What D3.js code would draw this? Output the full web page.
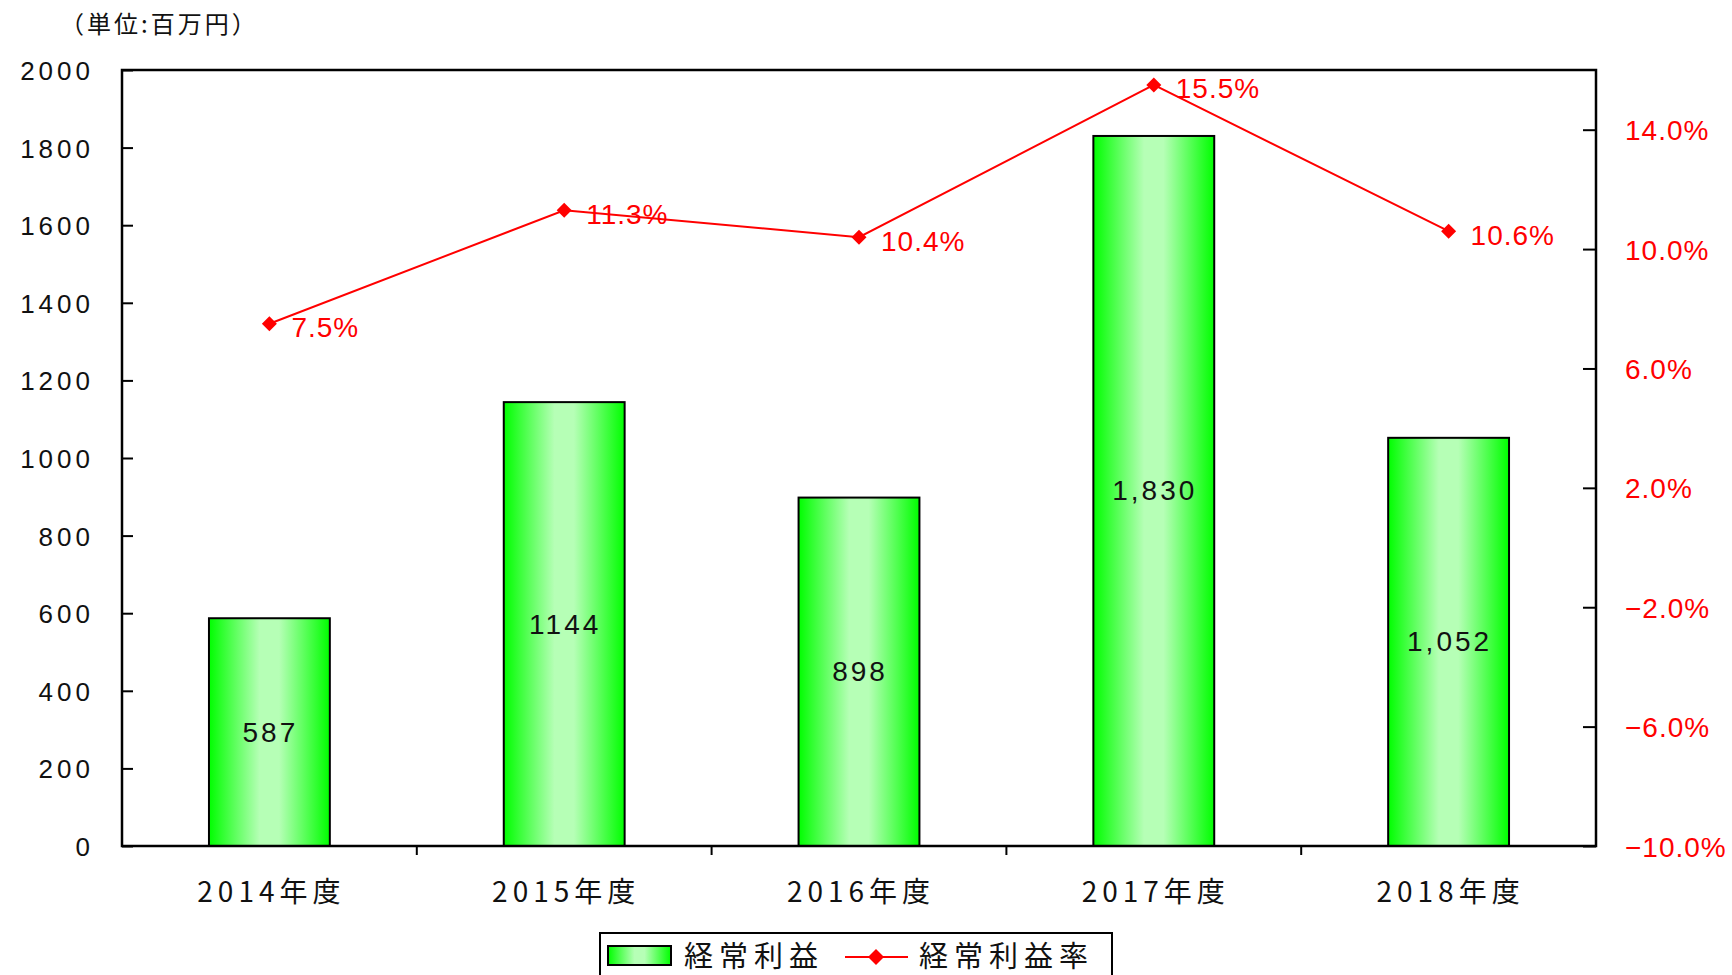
<!DOCTYPE html>
<html>
<head>
<meta charset="utf-8">
<script src="https://cdn.jsdelivr.net/npm/d3@7"></script>
<style>
  body { margin: 0; background: #fff; }
  text { font-family: "Liberation Sans", "Noto Sans CJK JP", sans-serif; }
  .jp { font-family: "Noto Sans CJK JP", sans-serif; }
</style>
</head>
<body>
<svg id="chart" width="1732" height="975"></svg>
<script>
// data
let years = ['2014年度', '2015年度', '2016年度', '2017年度', '2018年度']
let profit = [587, 1144, 898, 1830, 1052]
let profitLabels = ['587', '1144', '898', '1,830', '1,052']
let rate = [7.5, 11.3, 10.4, 15.5, 10.6]
let leftTicks = [0, 200, 400, 600, 800, 1000, 1200, 1400, 1600, 1800, 2000]
let rightTicks = [-10, -6, -2, 2, 6, 10, 14]

var plotL = 122
var plotR = 1596
var plotT = 70
var plotB = 846

var svg = d3.select('#chart')

// gradient for bars
var grad = svg.append('defs').append('linearGradient')
  .attr('id', 'barGrad')
  .attr('x1', '0%').attr('x2', '100%').attr('y1', '0%').attr('y2', '0%')
grad.append('stop').attr('offset', '0%').attr('stop-color', '#00ff00')
grad.append('stop').attr('offset', '42%').attr('stop-color', '#b6ffb6')
grad.append('stop').attr('offset', '58%').attr('stop-color', '#b6ffb6')
grad.append('stop').attr('offset', '100%').attr('stop-color', '#00ff00')

var x = d3.scaleBand()
  .domain(years)
  .range([plotL, plotR])
  .paddingInner(0.59)
  .paddingOuter(0.295)

var y = d3.scaleLinear()
  .domain([0, 2000])
  .range([plotB, plotT])

var y2 = d3.scaleLinear()
  .domain([-10, 16])
  .range([plotB, plotT])

// unit label
svg.append('text')
  .attr('class', 'jp')
  .attr('x', 60)
  .attr('y', 22)
  .attr('dominant-baseline', 'central')
  .attr('font-size', 24)
  .attr('letter-spacing', 3)
  .attr('fill', '#111')
  .text('（単位:百万円）')

// bars
svg.selectAll('rect.bar')
  .data(profit)
  .enter().append('rect')
  .attr('class', 'bar')
  .attr('x', (d, i) => x(years[i]))
  .attr('y', d => y(d))
  .attr('width', x.bandwidth())
  .attr('height', d => plotB - y(d))
  .attr('fill', 'url(#barGrad)')
  .attr('stroke', '#000')
  .attr('stroke-width', 2)

// bar value labels
svg.selectAll('text.val')
  .data(profit)
  .enter().append('text')
  .attr('class', 'val')
  .attr('x', (d, i) => x(years[i]) + x.bandwidth() / 2 + 1)
  .attr('y', d => (y(d) + plotB) / 2)
  .attr('text-anchor', 'middle')
  .attr('dominant-baseline', 'central')
  .attr('font-size', 28)
  .attr('letter-spacing', 3)
  .attr('fill', '#111')
  .text((d, i) => profitLabels[i])

// plot frame
svg.append('path')
  .attr('d', `M${plotL},${plotT}H${plotR}V${plotB}H${plotL}Z`)
  .attr('fill', 'none')
  .attr('stroke', '#000')
  .attr('stroke-width', 2.5)

// left axis
var yAxis = svg.append('g')
  .attr('transform', `translate(${plotL},0)`)
  .call(d3.axisRight(y).tickValues(leftTicks).tickSize(11).tickFormat(''))
yAxis.select('.domain').remove()
yAxis.selectAll('line').attr('stroke', '#000').attr('stroke-width', 2)

svg.selectAll('text.ly')
  .data(leftTicks)
  .enter().append('text')
  .attr('class', 'ly')
  .attr('x', 94)
  .attr('y', d => y(d) + 1)
  .attr('text-anchor', 'end')
  .attr('dominant-baseline', 'central')
  .attr('font-size', 26)
  .attr('letter-spacing', 4)
  .attr('fill', '#111')
  .text(d => d)

// right axis
var y2Axis = svg.append('g')
  .attr('transform', `translate(${plotR},0)`)
  .call(d3.axisLeft(y2).tickValues(rightTicks).tickSize(13).tickFormat(''))
y2Axis.select('.domain').remove()
y2Axis.selectAll('line').attr('stroke', '#000').attr('stroke-width', 2)

svg.selectAll('text.ry')
  .data(rightTicks)
  .enter().append('text')
  .attr('class', 'ry')
  .attr('x', 1625)
  .attr('y', d => y2(d) + 1)
  .attr('dominant-baseline', 'central')
  .attr('font-size', 28)
  .attr('letter-spacing', 1)
  .attr('fill', '#ff0000')
  .text(d => (d < 0 ? '−' : '') + Math.abs(d).toFixed(1) + '%')

// x axis ticks between categories
var step = x.step()
svg.selectAll('line.xt')
  .data(years.slice(1))
  .enter().append('line')
  .attr('class', 'xt')
  .attr('x1', (d, i) => plotL + step * (i + 1))
  .attr('x2', (d, i) => plotL + step * (i + 1))
  .attr('y1', plotB)
  .attr('y2', plotB + 9)
  .attr('stroke', '#000')
  .attr('stroke-width', 2)

svg.selectAll('text.xl')
  .data(years)
  .enter().append('text')
  .attr('class', 'xl jp')
  .attr('x', d => x(d) + x.bandwidth() / 2 + 2)
  .attr('y', 890)
  .attr('text-anchor', 'middle')
  .attr('dominant-baseline', 'central')
  .attr('font-size', 28)
  .attr('letter-spacing', 5)
  .attr('fill', '#111')
  .text(d => d)

// rate line
var cx = (d, i) => x(years[i]) + x.bandwidth() / 2
var line = d3.line()
  .x(cx)
  .y(d => y2(d))

svg.append('path')
  .datum(rate)
  .attr('d', line)
  .attr('fill', 'none')
  .attr('stroke', '#ff0000')
  .attr('stroke-width', 2)

svg.selectAll('path.mk')
  .data(rate)
  .enter().append('path')
  .attr('class', 'mk')
  .attr('transform', (d, i) => `translate(${cx(d, i)},${y2(d)})`)
  .attr('d', 'M0,-7.5L7.5,0L0,7.5L-7.5,0Z')
  .attr('fill', '#ff0000')

svg.selectAll('text.rl')
  .data(rate)
  .enter().append('text')
  .attr('class', 'rl')
  .attr('x', (d, i) => cx(d, i) + 22)
  .attr('y', d => y2(d) + 4)
  .attr('dominant-baseline', 'central')
  .attr('font-size', 28)
  .attr('letter-spacing', 1)
  .attr('fill', '#ff0000')
  .text(d => d.toFixed(1) + '%')

// legend
var lg = svg.append('g')
lg.append('rect')
  .attr('x', 600).attr('y', 933)
  .attr('width', 512).attr('height', 60)
  .attr('fill', '#fff')
  .attr('stroke', '#000')
  .attr('stroke-width', 2)
lg.append('rect')
  .attr('x', 608).attr('y', 946)
  .attr('width', 63).attr('height', 19)
  .attr('fill', 'url(#barGrad)')
  .attr('stroke', '#000')
  .attr('stroke-width', 2)
lg.append('text')
  .attr('class', 'jp')
  .attr('x', 684).attr('y', 954)
  .attr('dominant-baseline', 'central')
  .attr('font-size', 29)
  .attr('letter-spacing', 6)
  .attr('fill', '#111')
  .text('経常利益')
lg.append('line')
  .attr('x1', 845).attr('x2', 908)
  .attr('y1', 957).attr('y2', 957)
  .attr('stroke', '#ff0000').attr('stroke-width', 2)
lg.append('path')
  .attr('transform', 'translate(876,957)')
  .attr('d', 'M0,-8L8,0L0,8L-8,0Z')
  .attr('fill', '#ff0000')
lg.append('text')
  .attr('class', 'jp')
  .attr('x', 919).attr('y', 954)
  .attr('dominant-baseline', 'central')
  .attr('font-size', 29)
  .attr('letter-spacing', 6)
  .attr('fill', '#111')
  .text('経常利益率')
</script>
</body>
</html>
